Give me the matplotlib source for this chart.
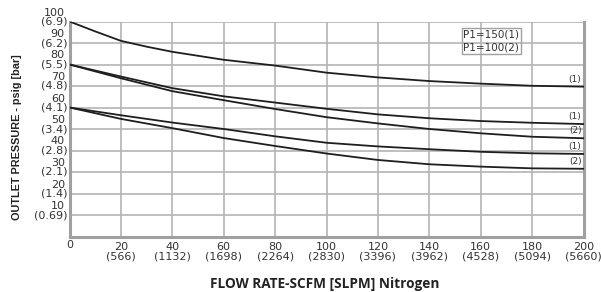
import matplotlib
matplotlib.use("Agg")
import matplotlib.pyplot as plt
from matplotlib.transforms import ScaledTranslation

flow_scfm = [0, 20, 40, 60, 80, 100, 120, 140, 160, 180, 200]
flow_slpm = ["", "(566)", "(1132)", "(1698)", "(2264)", "(2830)", "(3396)",
             "(3962)", "(4528)", "(5094)", "(5660)"]
psig_ticks = [10, 20, 30, 40, 50, 60, 70, 80, 90, 100]
bar_labels = ["(0.69)", "(1.4)", "(2.1)", "(2.8)", "(3.4)", "(4.1)", "(4.8)",
              "(5.5)", "(6.2)", "(6.9)"]

flow_top = [0, 10, 20, 30, 40, 60, 80, 100, 120, 140, 160, 180, 200]
p150_set100 = [100, 95.4, 91.0, 88.3, 85.9, 82.2, 79.5, 76.2, 74.0, 72.3, 71.1, 70.1, 69.7]
p150_set80 = [80, 74.4, 69.0, 65.2, 62.3, 59.4, 56.8, 55.0, 53.7, 52.9, 52.3]
p100_set80 = [80, 73.6, 67.6, 63.4, 59.3, 55.5, 52.6, 50.0, 48.0, 46.4, 45.7]
p150_set60 = [60, 56.4, 53.0, 50.0, 46.6, 43.6, 41.9, 40.6, 39.4, 38.7, 38.4]
p100_set60 = [60, 54.7, 50.4, 45.8, 42.1, 38.6, 35.6, 33.6, 32.5, 31.7, 31.5]

series = [(flow_top, p150_set100, "(1)"), (flow_scfm, p150_set80, "(1)"),
          (flow_scfm, p100_set80, "(2)"), (flow_scfm, p150_set60, "(1)"),
          (flow_scfm, p100_set60, "(2)")]
legend_lines = ["P1=150(1)", "P1=100(2)"]

fig = plt.figure(figsize=(6.01, 2.92), dpi=100)
ax = fig.add_axes([69.5 / 601, 55.5 / 292, 514 / 601, 215 / 292])
ax.set_xlim(0, 200)
ax.set_ylim(0, 100)

grid_c = "#b4b4b4"
for v in psig_ticks:
    ax.axhline(v, color=grid_c, lw=1.2, zorder=1)
for v in flow_scfm[1:-1]:
    ax.axvline(v, color=grid_c, lw=1.2, zorder=1)

ax.spines["top"].set_visible(False)
for side in ["left", "bottom", "right"]:
    ax.spines[side].set_color("#a0a0a0")
    ax.spines[side].set_linewidth(2.2)

for xs, ys, lab in series:
    ax.plot(xs, ys, color="#1e1e1e", lw=1.3, zorder=3, solid_joinstyle="round")
    ax.annotate(lab, xy=(xs[-1], ys[-1]), xytext=(-1.5, 5.5),
                textcoords="offset points", ha="right", va="center",
                fontsize=6.5, color="#333333", family="DejaVu Sans")

ax.set_xticks([])
ax.set_yticks([])

tick_font = dict(family="DejaVu Sans", fontsize=8, color="#333333")
ytr = ax.get_yaxis_transform()
for v, b in zip(psig_ticks, bar_labels):
    ax.text(-0.004, v, b, transform=ytr, ha="right", va="center", **tick_font)
    ax.text(-0.009, v, str(v),
            transform=ytr + ScaledTranslation(0, 9 / 100, fig.dpi_scale_trans),
            ha="right", va="center", **tick_font)

xtr = ax.get_xaxis_transform()
for v, s in zip(flow_scfm, flow_slpm):
    if s:
        ax.text(v, 0, str(v),
                transform=xtr + ScaledTranslation(0, -11 / 100, fig.dpi_scale_trans),
                ha="center", va="center", **tick_font)
        ax.text(v, 0, s,
                transform=xtr + ScaledTranslation(0, -20 / 100, fig.dpi_scale_trans),
                ha="center", va="center", **tick_font)
    else:
        ax.text(v, 0, str(v),
                transform=xtr + ScaledTranslation(0, -9 / 100, fig.dpi_scale_trans),
                ha="center", va="center", **tick_font)

fig.text(325 / 601, 1 - 284 / 292, "FLOW RATE-SCFM [SLPM] Nitrogen", ha="center",
         va="center", fontsize=9.8, fontweight="bold", family="Open Sans", color="#222222")
fig.text(17 / 601, 1 - 137 / 292, "OUTLET PRESSURE - psig [bar]", ha="center",
         va="center", rotation=90, fontsize=7.8, fontweight="bold",
         family="Liberation Sans", color="#222222")

ax.text(0.766, 0.962, "\n".join(legend_lines), transform=ax.transAxes, ha="left",
        va="top", fontsize=7.5, family="DejaVu Sans", color="#333333", linespacing=1.3,
        bbox=dict(boxstyle="square,pad=0.15", fc="none", ec="#a0a0a0", lw=1.0), zorder=4)

fig.savefig("out.png", dpi=100)
